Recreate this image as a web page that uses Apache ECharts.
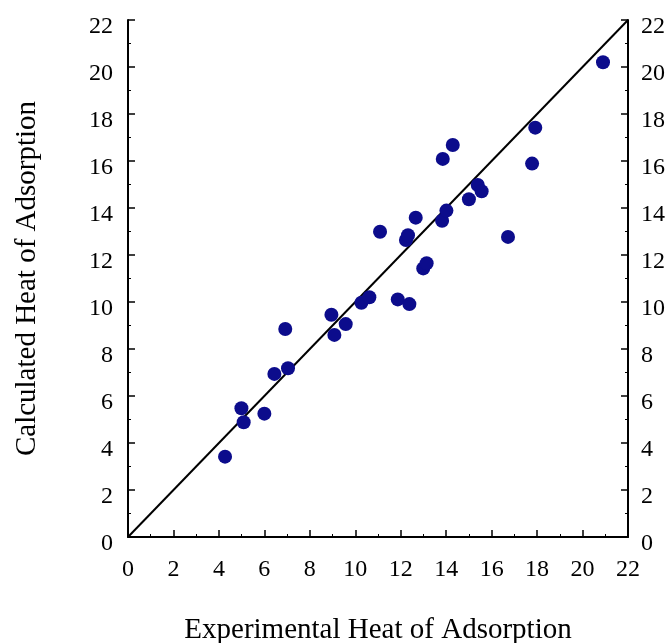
<!DOCTYPE html>
<html>
<head>
<meta charset="utf-8">
<script src="https://cdn.jsdelivr.net/npm/echarts@6/dist/echarts.min.js"></script>
<style>html,body{margin:0;padding:0;background:#fff;}#c{width:671px;height:643px;}</style>
</head>
<body>
<div id="c"></div>
<script>
const expX = [4.27, 4.99, 5.09, 6.0, 6.44, 6.92, 7.04, 8.95, 9.08, 9.58, 10.27, 10.62, 11.87, 12.38, 12.99, 13.14, 11.09, 12.23, 12.32, 12.66, 13.82, 14.01, 13.85, 14.29, 15.0, 15.39, 15.56, 16.72, 17.78, 17.92, 20.9];
const calcY = [3.42, 5.48, 4.88, 5.25, 6.94, 8.85, 7.18, 9.46, 8.6, 9.06, 9.97, 10.2, 10.11, 9.91, 11.43, 11.65, 12.99, 12.64, 12.84, 13.59, 13.46, 13.89, 16.09, 16.68, 14.37, 14.98, 14.71, 12.77, 15.89, 17.42, 20.2];
const parityLine = [[0, 0], [22, 22]];
const axisMin = 0, axisMax = 22, axisStep = 2;
const xTitle = 'Experimental Heat of Adsorption';
const yTitle = 'Calculated Heat of Adsorption';

const font = '"Liberation Serif", "DejaVu Serif", serif';
const axisCommon = {
  min: axisMin, max: axisMax, interval: axisStep,
  axisLine: {show: true, lineStyle: {color: '#000', width: 2}},
  axisTick: {show: true, inside: true, length: 7, lineStyle: {color: '#000', width: 1.5}},
  minorTick: {show: true, splitNumber: 2, length: 3, lineStyle: {color: '#000', width: 1}},
  splitLine: {show: false},
  axisLabel: {color: '#000', fontFamily: font, fontSize: 24, margin: 15, verticalAlign: 'top', lineHeight: 14},
  nameTextStyle: {color: '#000', fontFamily: font, fontSize: 29}
};
const chart = echarts.init(document.getElementById('c'), null, {renderer: 'canvas'});
chart.setOption({
  animation: false,
  backgroundColor: '#fff',
  textStyle: {fontFamily: font},
  grid: {left: 128, right: 43, top: 20, bottom: 106, containLabel: false, outerBoundsMode: 'none'},
  xAxis: Object.assign({}, axisCommon, {
    type: 'value', name: xTitle, nameLocation: 'middle', nameGap: 79,
    axisLabel: {color: '#000', fontFamily: font, fontSize: 24, margin: 21}
  }),
  yAxis: [
    Object.assign({}, axisCommon, {type: 'value', position: 'left', name: yTitle, nameLocation: 'middle', nameGap: 86}),
    Object.assign({}, axisCommon, {type: 'value', position: 'right', axisLabel: Object.assign({}, axisCommon.axisLabel, {margin: 13})})
  ],
  series: [
    {type: 'line', data: parityLine, showSymbol: false, symbol: 'none', lineStyle: {color: '#000', width: 2}, z: 1},
    {type: 'scatter', data: expX.map((x, i) => [x, calcY[i]]), symbol: 'circle', symbolSize: 14, itemStyle: {color: '#0c0c8c', opacity: 1}, z: 2}
  ]
});
</script>
</body>
</html>
